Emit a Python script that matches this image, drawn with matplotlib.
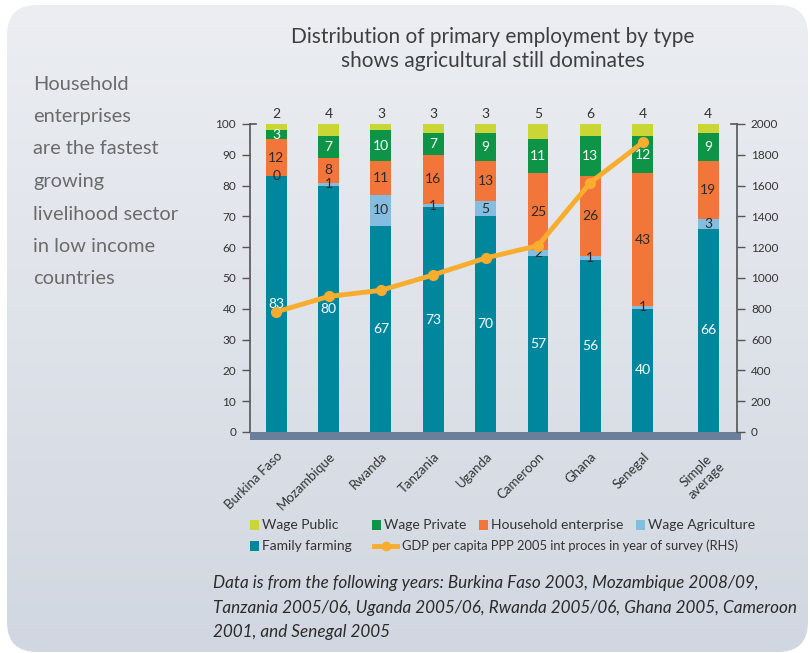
import matplotlib.pyplot as plt
import numpy as np
from matplotlib.lines import Line2D
from matplotlib.patches import FancyBboxPatch, Rectangle

countries = ["Burkina Faso", "Mozambique", "Rwanda", "Tanzania", "Uganda",
             "Cameroon", "Ghana", "Senegal", "Simple\naverage"]
positions = [0, 1, 2, 3, 4, 5, 6, 7, 8.25]

family_farming = [83, 80, 67, 73, 70, 57, 56, 40, 66]
wage_agriculture = [0, 1, 10, 1, 5, 2, 1, 1, 3]
household_enterprise = [12, 8, 11, 16, 13, 25, 26, 43, 19]
wage_private = [3, 7, 10, 7, 9, 11, 13, 12, 9]
wage_public = [2, 4, 3, 3, 3, 5, 6, 4, 4]

# GDP per capita (RHS), survey countries only
gdp = [780, 880, 920, 1020, 1130, 1210, 1620, 1880]

series = [
    ("Family farming", family_farming, "#00879e", "white"),
    ("Wage Agriculture", wage_agriculture, "#84bde0", "#2b2b2b"),
    ("Household enterprise", household_enterprise, "#f2763a", "#2b2b2b"),
    ("Wage Private", wage_private, "#0d9447", "white"),
    ("Wage Public", wage_public, "#c9d636", None),
]
line_color = "#f8ad2f"
text_dark = "#333333"

W, H = 810, 653


def fx(x):
    return x / W


def fy(y):
    return 1 - y / H


plt.rcParams["font.family"] = ["Lato", "DejaVu Sans"]
fig = plt.figure(figsize=(8.1, 6.53), dpi=100)
fig.patch.set_facecolor("white")

# rounded panel with a soft vertical gradient
bg = fig.add_axes([0, 0, 1, 1], zorder=-5)
bg.set_xlim(0, W)
bg.set_ylim(H, 0)
bg.axis("off")
panel = FancyBboxPatch((7, 5), 801, 647, boxstyle="round,pad=0,rounding_size=30",
                       facecolor="none", edgecolor="none")
bg.add_patch(panel)
grad = np.linspace(0, 1, 256)[:, None]
top_c = np.array([0.925, 0.933, 0.949])
bot_c = np.array([0.820, 0.843, 0.882])
img = top_c + (bot_c - top_c) * grad[..., None]
im = bg.imshow(np.repeat(img, 2, axis=1), extent=(0, W, H, 0), aspect="auto")
im.set_clip_path(panel)

ax = fig.add_axes([fx(250), fy(432), fx(737) - fx(250), fy(124) - fy(432)])
ax.patch.set_visible(False)

bottom = np.zeros(len(countries))
for name, vals, color, tcolor in series:
    vals = np.array(vals, dtype=float)
    ax.bar(positions, vals, width=0.4, bottom=bottom, color=color, zorder=2)
    for xp, b, v in zip(positions, bottom, vals):
        if tcolor is None:
            ax.annotate(f"{int(v)}", (xp, 100), xytext=(0, 3), textcoords="offset points",
                        ha="center", va="bottom", fontsize=10, color=text_dark)
        else:
            ax.text(xp, b + v / 2, f"{int(v)}", ha="center", va="center",
                    fontsize=10, color=tcolor, zorder=3)
    bottom += vals

ax.set_xlim(-0.5, 8.8)
ax.set_ylim(0, 100)
ax.set_yticks(np.arange(0, 101, 10))
ax.set_xticks(positions)
ax.set_xticklabels(countries, rotation=45, ha="right", rotation_mode="anchor",
                   fontsize=9.5, color=text_dark, multialignment="center")
ax.tick_params(axis="x", length=0, pad=13)
ax.tick_params(axis="y", direction="out", length=6, width=1, color="#555555",
               labelsize=8.5, labelcolor=text_dark, pad=4)
for side in ["top", "right", "bottom"]:
    ax.spines[side].set_visible(False)
ax.spines["left"].set_color("#555555")
ax.spines["left"].set_linewidth(1.2)

# floor band under the bars
ax.add_patch(Rectangle((0, -0.027), 1.008, 0.027, transform=ax.transAxes,
                       facecolor="#6b7f9b", edgecolor="none", clip_on=False, zorder=4))
ax.plot([0, 0.012], [1, 1], transform=ax.transAxes, color="#555555", lw=1.2,
        clip_on=False)

ax2 = ax.twinx()
ax2.plot(positions[:len(gdp)], gdp, color=line_color, lw=3.5, marker="o",
         markersize=7, zorder=5)
ax2.set_ylim(0, 2000)
ax2.set_yticks(np.arange(0, 2001, 200))
ax2.tick_params(axis="y", direction="out", length=6, width=1, color="#555555",
                labelsize=8.5, labelcolor=text_dark, pad=4)
for side in ["top", "left", "bottom"]:
    ax2.spines[side].set_visible(False)
ax2.spines["right"].set_color("#555555")
ax2.spines["right"].set_linewidth(1.2)
ax2.plot([1, 0.988], [1, 1], transform=ax2.transAxes, color="#555555", lw=1.2,
         clip_on=False)

# titles and side note
fig.text(fx(493), fy(37), "Distribution of primary employment by type",
         ha="center", va="center", fontsize=15, color="#3f3f3f")
fig.text(fx(493), fy(61), "shows agricultural still dominates",
         ha="center", va="center", fontsize=15, color="#3f3f3f")

side_lines = ["Household", "enterprises", "are the fastest", "growing",
              "livelihood sector", "in low income", "countries"]
for i, line in enumerate(side_lines):
    fig.text(fx(33), fy(84 + i * 32.5), line, ha="left", va="center",
             fontsize=14.4, color="#6b6b6b")

# legend, laid out in two rows
row1 = [("Wage Public", 250), ("Wage Private", 372),
        ("Household enterprise", 479), ("Wage Agriculture", 636)]
colors = {name: c for name, _, c, _ in series}
for name, x0 in row1:
    fig.patches.append(Rectangle((fx(x0), fy(530)), 9 / W, 10 / H,
                                 transform=fig.transFigure, facecolor=colors[name],
                                 edgecolor="none"))
    fig.text(fx(x0 + 12), fy(525), name, ha="left", va="center",
             fontsize=10, color=text_dark)
fig.patches.append(Rectangle((fx(250), fy(551)), 9 / W, 10 / H,
                             transform=fig.transFigure,
                             facecolor=colors["Family farming"], edgecolor="none"))
fig.text(fx(262), fy(546), "Family farming", ha="left", va="center",
         fontsize=10, color=text_dark)
fig.lines.append(Line2D([fx(374), fx(397)], [fy(546), fy(546)],
                        transform=fig.transFigure, color=line_color, lw=3.5))
fig.lines.append(Line2D([fx(386)], [fy(546)], transform=fig.transFigure,
                        color=line_color, marker="o", markersize=6))
fig.text(fx(402), fy(546),
         "GDP per capita PPP 2005 int proces in year of survey (RHS)",
         ha="left", va="center", fontsize=9.3, color=text_dark)

notes = [
    "Data is from the following years: Burkina Faso 2003, Mozambique 2008/09,",
    "Tanzania 2005/06, Uganda 2005/06, Rwanda 2005/06, Ghana 2005, Cameroon",
    "2001, and Senegal 2005",
]
for i, line in enumerate(notes):
    fig.text(fx(213), fy(583 + i * 24.5), line, ha="left", va="center",
             fontsize=12.3, style="italic", color="#2b2b2b")

fig.savefig("out.png", dpi=100)
